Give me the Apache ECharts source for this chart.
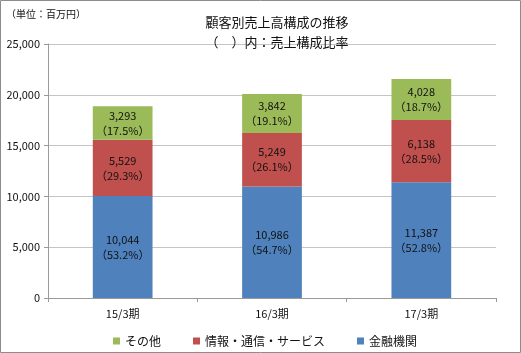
<!DOCTYPE html>
<html>
<head>
<meta charset="utf-8">
<script src="https://cdn.jsdelivr.net/npm/echarts@6/dist/echarts.min.js"></script>
<style>
  html, body { margin: 0; padding: 0; background: #fff; }
  #chart { width: 521px; height: 353px; }
</style>
</head>
<body>
<div id="chart"></div>
<script>
// values in 百万円
const categories = ['15/3期', '16/3期', '17/3期'];
const finance = [10044, 10986, 11387];
const info = [5529, 5249, 6138];
const other = [3293, 3842, 4028];
const financeRatio = ['53.2', '54.7', '52.8'];
const infoRatio = ['29.3', '26.1', '28.5'];
const otherRatio = ['17.5', '19.1', '18.7'];
const totals = [18868, 20082, 21554];

const font = '"Noto Sans CJK JP", "Noto Sans", sans-serif';
const fmt = v => String(v).replace(/\B(?=(\d{3})+(?!\d))/g, ',');

const innerLabel = (ratios) => ({
  show: true,
  position: 'inside',
  color: '#111',
  fontSize: 11,
  lineHeight: 15,
  fontFamily: font,
  formatter: p => fmt(p.value) + '\n（' + ratios[p.dataIndex] + '%）',
});

const chart = echarts.init(document.getElementById('chart'));
chart.setOption({
  animation: false,
  textStyle: { fontFamily: font },
  graphic: [
    {
      type: 'rect',
      shape: { x: 0.5, y: 0.5, width: 520, height: 352 },
      style: { fill: 'none', stroke: '#8c8c8c', lineWidth: 1 },
      silent: true,
    },
    {
      type: 'text',
      left: 6,
      top: 9,
      style: { text: '（単位：百万円）', fontSize: 10, fontFamily: font, fill: '#111' },
    },
  ],
  title: {
    text: '顧客別売上高構成の推移\n（　）内：売上構成比率',
    left: 272,
    top: 7,
    textAlign: 'center',
    textStyle: { fontSize: 13, fontWeight: 'normal', color: '#111', lineHeight: 20, fontFamily: font },
  },
  legend: {
    data: ['その他', '情報・通信・サービス', '金融機関'],
    left: 108,
    top: 330,
    itemWidth: 7,
    itemHeight: 7,
    itemGap: 32,
    icon: 'rect',
    textStyle: { fontSize: 12, color: '#111', fontFamily: font },
  },
  grid: { left: 48, right: 25, top: 44, bottom: 55 },
  xAxis: {
    type: 'category',
    data: categories,
    axisLine: { lineStyle: { color: '#9a9a9a' } },
    axisTick: { show: true, length: 4, lineStyle: { color: '#9a9a9a' } },
    axisLabel: { color: '#111', fontSize: 11, margin: 10, fontFamily: font },
  },
  yAxis: {
    type: 'value',
    min: 0,
    max: 25000,
    interval: 5000,
    axisLine: { show: true, lineStyle: { color: '#9a9a9a' } },
    axisTick: { show: true, length: 4, lineStyle: { color: '#9a9a9a' } },
    axisLabel: { color: '#111', fontSize: 11, margin: 8, fontFamily: font, formatter: v => fmt(v) },
    splitLine: { lineStyle: { color: '#c4c4c4' } },
  },
  series: [
    {
      name: '金融機関',
      type: 'bar',
      stack: 'total',
      barWidth: '40%',
      data: finance,
      itemStyle: { color: '#4F81BD' },
      label: innerLabel(financeRatio),
    },
    {
      name: '情報・通信・サービス',
      type: 'bar',
      stack: 'total',
      data: info,
      itemStyle: { color: '#C0504D' },
      label: innerLabel(infoRatio),
    },
    {
      name: 'その他',
      type: 'bar',
      stack: 'total',
      data: other,
      itemStyle: { color: '#9BBB59' },
      label: innerLabel(otherRatio),
    },
    {
      name: '合計',
      type: 'line',
      data: totals,
      symbol: 'none',
      lineStyle: { opacity: 0 },
      silent: true,
      label: {
        show: true,
        position: 'top',
        distance: 14,
        color: '#111',
        fontSize: 13,
        fontFamily: font,
        formatter: p => fmt(p.value),
      },
    },
  ],
});
</script>
</body>
</html>
